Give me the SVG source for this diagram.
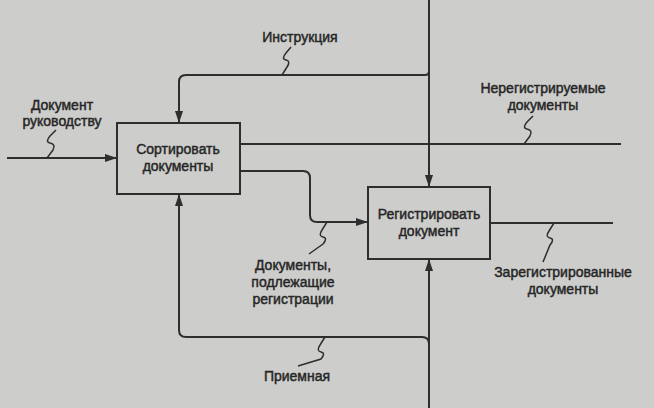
<svg xmlns="http://www.w3.org/2000/svg" width="654" height="408" viewBox="0 0 654 408">
<defs>
<marker id="ah" viewBox="0 0 12 8" refX="12" refY="4" markerWidth="12" markerHeight="8" markerUnits="userSpaceOnUse" orient="auto">
<path d="M0,0 L12,4 L0,8 Z" fill="#2e2e2e"/>
</marker>
</defs>
<style>
.bg{fill:#cdcdcb}
.box{fill:none;stroke:#2e2e2e;stroke-width:2}
.ln{fill:none;stroke:#2e2e2e;stroke-width:2}
.sq{fill:none;stroke:#2e2e2e;stroke-width:1.5}
text{font-family:"Liberation Sans",Arial,sans-serif;font-size:14px;fill:#262626;text-anchor:middle;stroke:#262626;stroke-width:0.45}
</style>
<rect class="bg" x="0" y="0" width="654" height="408"/>
<g id="connectors">
<path class="ln" d="M7,158 H117" marker-end="url(#ah)"/>
<path class="ln" d="M429,0 V187" marker-end="url(#ah)"/>
<path class="ln" d="M425,75 H186 Q179,75 179,82 V123" marker-end="url(#ah)"/>
<path class="ln" d="M425,75 Q429,75 429,71"/>
<path class="ln" d="M240,144 H621"/>
<path class="ln" d="M240,171 H303 Q310,171 310,178 V215 Q310,222 317,222 H368" marker-end="url(#ah)"/>
<path class="ln" d="M429,408 V259" marker-end="url(#ah)"/>
<path class="ln" d="M429,344 Q429,337 422,337 H186 Q179,337 179,330 V194" marker-end="url(#ah)"/>
<path class="ln" d="M490,223 H613"/>
<path class="sq" d="M47,158 L53,150 Q56,144 50,143 Q45,142 50,136 L56,130"/>
<path class="sq" d="M282,75 L287,67 Q291,61 286,60 Q281,59 286,53 L291,47"/>
<path class="sq" d="M524,144 L530,136 Q533,130 527,129 Q522,128 527,122 L533,116"/>
<path class="sq" d="M327,222 L322,230 Q318,236 323,237 Q328,238 323,244 L309,254"/>
<path class="sq" d="M325,337 L320,345 Q316,351 321,352 Q326,353 321,359 L298,366"/>
<path class="sq" d="M554,223 L549,231 Q545,237 550,238 Q555,239 550,245 L543,262"/>
</g>
<g id="sort">
<rect class="box" x="117" y="123" width="123" height="71"/>
<text x="178" y="154">Сортировать</text>
<text x="178" y="171">документы</text>
</g>
<g id="register">
<rect class="box" x="368" y="187" width="122" height="72"/>
<text x="429" y="219">Регистрировать</text>
<text x="429" y="236">документ</text>
</g>
<g id="label-input">
<text x="62" y="110">Документ</text>
<text x="62" y="126">руководству</text>
</g>
<g id="label-instr">
<text x="300" y="42">Инструкция</text>
</g>
<g id="label-nonreg">
<text x="543" y="93">Нерегистрируемые</text>
<text x="543" y="110">документы</text>
</g>
<g id="label-tobereg">
<text x="293" y="270">Документы,</text>
<text x="293" y="287">подлежащие</text>
<text x="293" y="304">регистрации</text>
</g>
<g id="label-reception">
<text x="297" y="381">Приемная</text>
</g>
<g id="label-registered">
<text x="563" y="277">Зарегистрированные</text>
<text x="563" y="294">документы</text>
</g>
</svg>
